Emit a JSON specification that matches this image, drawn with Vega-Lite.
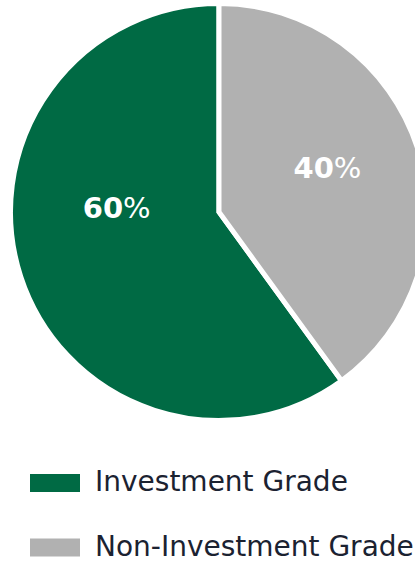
{
  "$schema": "https://vega.github.io/schema/vega-lite/v6.json",
  "width": 415,
  "height": 562,
  "autosize": {"type": "none"},
  "padding": 0,
  "background": "white",
  "config": {"view": {"stroke": null}},
  "data": {"values": [
    {"category": "Investment Grade", "value": 60, "num": "60"},
    {"category": "Non-Investment Grade", "value": 40, "num": "40"}
  ]},
  "encoding": {
    "theta": {"field": "value", "type": "quantitative", "stack": true},
    "order": {"field": "category", "sort": "descending"},
    "x": {"value": 219},
    "y": {"value": 212}
  },
  "layer": [
    {
      "mark": {"type": "arc", "outerRadius": 208.5, "stroke": "white", "strokeWidth": 5},
      "encoding": {
        "color": {
          "field": "category",
          "type": "nominal",
          "scale": {"domain": ["Investment Grade", "Non-Investment Grade"], "range": ["#006a44", "#b1b1b1"]},
          "legend": {
            "orient": "none",
            "legendX": 30,
            "legendY": 458,
            "title": null,
            "padding": 0,
            "symbolType": "M-1,-0.36L1,-0.36L1,0.36L-1,0.36Z",
            "symbolSize": 2500,
            "symbolStrokeWidth": 0,
            "symbolOpacity": 1,
            "labelOffset": 15,
            "rowPadding": 25.5,
            "labelFont": "DejaVu Sans",
            "labelFontSize": 28,
            "labelColor": "#1b2231",
            "labelLimit": 0
          }
        }
      }
    },
    {
      "mark": {"type": "text", "radius": 107.6, "dy": -27, "dx": 6.4, "align": "right", "baseline": "alphabetic", "font": "DejaVu Sans", "fontSize": 29, "fontWeight": "bold", "fill": "white"},
      "encoding": {"text": {"condition": {"test": "datum.category === 'Investment Grade'", "field": "num"}, "value": ""}}
    },
    {
      "mark": {"type": "text", "radius": 107.6, "dy": -27, "dx": 6.4, "align": "left", "baseline": "alphabetic", "font": "DejaVu Sans", "fontSize": 29, "fontWeight": "normal", "fill": "white"},
      "encoding": {"text": {"condition": {"test": "datum.category === 'Investment Grade'", "value": "%"}, "value": ""}}
    },
    {
      "mark": {"type": "text", "radius": 114, "dy": 1.5, "dx": 6.4, "align": "right", "baseline": "alphabetic", "font": "DejaVu Sans", "fontSize": 29, "fontWeight": "bold", "fill": "white"},
      "encoding": {"text": {"condition": {"test": "datum.category === 'Non-Investment Grade'", "field": "num"}, "value": ""}}
    },
    {
      "mark": {"type": "text", "radius": 114, "dy": 1.5, "dx": 6.4, "align": "left", "baseline": "alphabetic", "font": "DejaVu Sans", "fontSize": 29, "fontWeight": "normal", "fill": "white"},
      "encoding": {"text": {"condition": {"test": "datum.category === 'Non-Investment Grade'", "value": "%"}, "value": ""}}
    }
  ]
}
